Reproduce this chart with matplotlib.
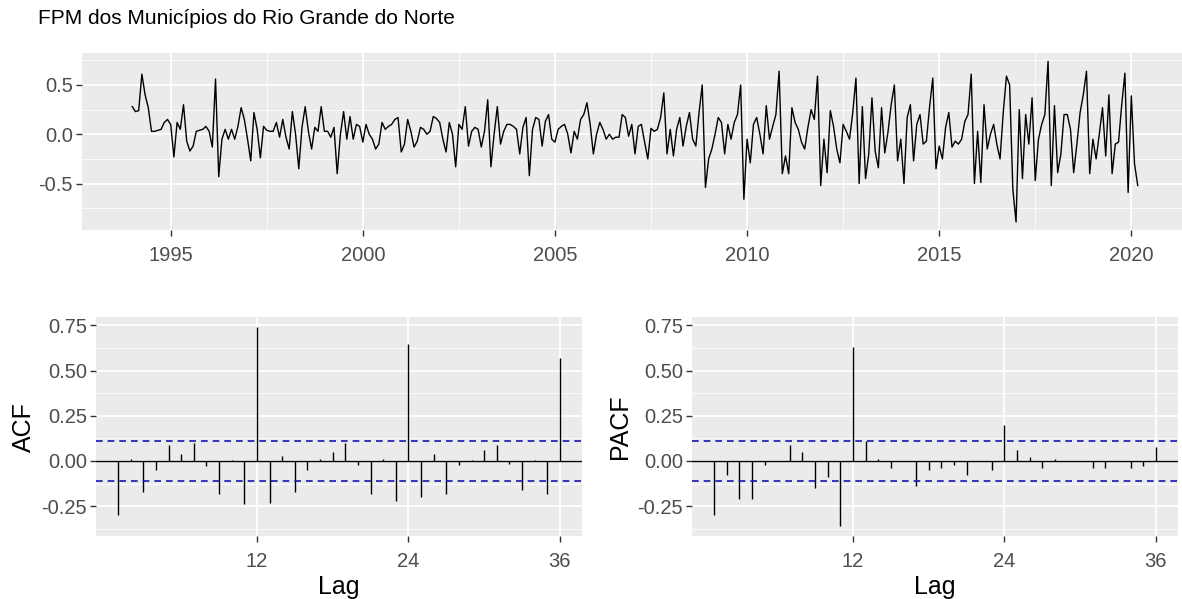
import numpy as np
import matplotlib
matplotlib.use("Agg")
import matplotlib.pyplot as plt

plt.rcParams["font.family"] = ["Liberation Sans", "DejaVu Sans"]

# monthly series, starting Jan 1994
start_year = 1994
fpm = [
    0.28, 0.23, 0.24, 0.61, 0.40, 0.27, 0.03, 0.03, 0.04, 0.05,
    0.12, 0.15, 0.10, -0.23, 0.12, 0.05, 0.30, -0.07, -0.17, -0.12,
    0.03, 0.04, 0.05, 0.08, 0.03, -0.13, 0.56, -0.43, -0.05, 0.05,
    -0.05, 0.05, -0.05, 0.08, 0.27, 0.15, -0.05, -0.27, 0.22, 0.05,
    -0.24, 0.08, 0.04, 0.03, 0.03, 0.12, -0.03, 0.15, -0.03, -0.15,
    0.23, 0.00, -0.35, 0.07, 0.28, 0.03, -0.15, 0.07, 0.03, 0.28,
    0.03, 0.03, -0.03, 0.07, -0.40, 0.00, 0.23, -0.05, 0.18, -0.05,
    0.10, 0.08, -0.08, 0.10, 0.00, -0.05, -0.15, -0.10, 0.12, 0.05,
    0.08, 0.10, 0.15, 0.17, -0.18, -0.10, 0.15, 0.03, -0.13, -0.07,
    0.07, 0.05, 0.00, 0.03, 0.18, 0.16, 0.12, -0.05, -0.18, 0.12,
    0.00, -0.33, 0.10, 0.05, 0.28, -0.12, 0.03, 0.07, 0.05, -0.13,
    0.03, 0.35, -0.33, 0.00, 0.28, -0.10, 0.03, 0.10, 0.10, 0.08,
    0.05, -0.20, 0.07, 0.17, -0.42, 0.05, 0.17, 0.15, -0.12, 0.13,
    0.20, -0.05, -0.08, 0.05, 0.08, 0.10, 0.00, -0.19, 0.03, -0.05,
    0.15, 0.20, 0.32, 0.10, -0.20, 0.00, 0.12, 0.05, -0.05, 0.00,
    -0.05, -0.03, -0.03, 0.20, 0.17, -0.02, 0.10, -0.20, 0.08, 0.10,
    -0.08, -0.25, 0.06, 0.03, 0.05, 0.17, 0.42, -0.20, 0.05, -0.22,
    0.05, 0.17, -0.12, 0.08, 0.22, -0.05, -0.12, 0.22, 0.50, -0.54,
    -0.25, -0.15, 0.00, 0.17, 0.12, -0.20, 0.10, -0.05, 0.12, 0.20,
    0.50, -0.66, -0.05, -0.29, 0.10, 0.17, 0.00, -0.20, 0.29, -0.05,
    0.08, 0.20, 0.64, -0.40, -0.22, -0.40, 0.27, 0.12, 0.05, -0.08,
    -0.15, 0.07, 0.25, 0.15, 0.59, -0.52, -0.05, -0.39, 0.24, 0.08,
    -0.15, -0.29, 0.10, 0.03, -0.05, 0.22, 0.57, -0.50, 0.28, -0.45,
    -0.20, 0.37, -0.17, -0.34, 0.27, -0.19, 0.02, 0.30, 0.50, -0.27,
    -0.05, -0.50, 0.17, 0.30, -0.27, 0.10, 0.20, -0.10, -0.07, 0.28,
    0.57, -0.35, -0.12, -0.25, 0.07, 0.22, -0.13, -0.07, -0.10, -0.05,
    0.13, 0.20, 0.61, -0.50, 0.03, -0.49, 0.30, -0.15, 0.00, 0.10,
    -0.10, -0.25, 0.22, 0.59, 0.50, -0.56, -0.89, 0.25, -0.45, 0.20,
    -0.10, 0.37, -0.47, -0.05, 0.10, 0.20, 0.74, -0.52, 0.29, -0.39,
    -0.20, 0.20, 0.20, 0.05, -0.39, -0.10, 0.22, 0.40, 0.64, -0.40,
    -0.05, -0.25, 0.00, 0.27, -0.22, 0.40, -0.40, -0.10, -0.08, 0.30,
    0.62, -0.59, 0.39, -0.30, -0.52,
]

lags = list(range(1, 37))
acf_vals = [
    -0.30, 0.01, -0.17, -0.05, 0.09, 0.04, 0.10, -0.03, -0.18, 0.005,
    -0.24, 0.74, -0.23, 0.03, -0.17, -0.05, 0.01, 0.05, 0.10, -0.02,
    -0.18, 0.01, -0.22, 0.65, -0.20, 0.04, -0.18, -0.02, 0.003, 0.06,
    0.09, -0.015, -0.16, 0.003, -0.18, 0.57,
]
pacf_vals = [
    -0.30, -0.08, -0.21, -0.21, -0.02, 0.002, 0.09, 0.05, -0.15, -0.09,
    -0.36, 0.63, 0.11, 0.01, -0.04, 0.002, -0.14, -0.05, -0.04, -0.02,
    -0.08, 0.002, -0.05, 0.20, 0.06, 0.02, -0.04, 0.01, 0.002, 0.002,
    -0.04, -0.04, 0.002, -0.04, -0.03, 0.08,
]

W, H = 1182, 599
BG = "#EBEBEB"
TICKC = "#4D4D4D"
FONT_TITLE = 15
FONT_TICK = 14.5
FONT_AX = 18


def px_axes(fig, left, right, top, bottom):
    return fig.add_axes([left / W, 1 - bottom / H, (right - left) / W, (bottom - top) / H])


def gg_style(ax):
    ax.set_facecolor(BG)
    for s in ax.spines.values():
        s.set_visible(False)
    ax.grid(True, which="major", color="white", linewidth=1.3)
    ax.grid(True, which="minor", color="white", linewidth=0.6)
    ax.set_axisbelow(True)
    ax.tick_params(which="major", length=4.5, width=1, color="#333333",
                   labelsize=FONT_TICK, labelcolor=TICKC, pad=2)
    ax.tick_params(axis="x", which="major", pad=7)
    ax.tick_params(which="minor", length=0)


fig = plt.figure(figsize=(W / 100, H / 100), dpi=100)

# time plot
t = start_year + np.arange(len(fpm)) / 12
y = np.array(fpm)
ax = px_axes(fig, 82, 1188, 53.3, 230)
gg_style(ax)
ax.plot(t, y, color="black", linewidth=1.0)
span = t[-1] - t[0]
ax.set_xlim(t[0] - 0.05 * span, t[-1] + 0.05 * span)
yr = y.max() - y.min()
ax.set_ylim(y.min() - 0.05 * yr, y.max() + 0.05 * yr)
ax.set_xticks([1995, 2000, 2005, 2010, 2015, 2020])
ax.set_xticks([1997.5, 2002.5, 2007.5, 2012.5, 2017.5], minor=True)
ax.set_yticks([-0.5, 0.0, 0.5])
ax.set_yticklabels(["-0.5", "0.0", "0.5"])
ax.set_yticks([-0.75, -0.25, 0.25, 0.75], minor=True)
fig.text(38 / W, 1 - 18 / H, "FPM dos Municípios do Rio Grande do Norte",
         fontsize=FONT_TITLE, ha="left", va="center")

# shared limits for the correlograms
ci = 1.959964 / np.sqrt(len(fpm))
lo = min(min(acf_vals), min(pacf_vals))
hi = max(max(acf_vals), max(pacf_vals))
ylims = (lo - 0.05 * (hi - lo), hi + 0.05 * (hi - lo))


def correlogram(ax, vals, ylabel):
    gg_style(ax)
    ax.vlines(lags, 0, vals, color="black", linewidth=1.0)
    ax.axhline(0, color="black", linewidth=1.0)
    ax.axhline(ci, color="#1515B0", linestyle=(0, (4, 3)), linewidth=1.2)
    ax.axhline(-ci, color="#1515B0", linestyle=(0, (4, 3)), linewidth=1.2)
    ax.set_xlim(lags[0] - 0.05 * (lags[-1] - lags[0]), lags[-1] + 0.05 * (lags[-1] - lags[0]))
    ax.set_ylim(*ylims)
    ax.set_xticks([12, 24, 36])
    ax.set_yticks([-0.25, 0.0, 0.25, 0.5, 0.75])
    ax.set_yticklabels(["-0.25", "0.00", "0.25", "0.50", "0.75"])
    ax.set_yticks([-0.375, -0.125, 0.125, 0.375, 0.625], minor=True)
    ax.grid(False, axis="x", which="minor")
    ax.set_xlabel("Lag", fontsize=FONT_AX, labelpad=3)
    ax.set_ylabel(ylabel, fontsize=FONT_AX, labelpad=4)


ax_acf = px_axes(fig, 96, 582, 317.3, 536)
correlogram(ax_acf, acf_vals, "ACF")
ax_pacf = px_axes(fig, 692, 1178, 317.3, 536)
correlogram(ax_pacf, pacf_vals, "PACF")

fig.savefig("out.png", dpi=100, facecolor="white")
